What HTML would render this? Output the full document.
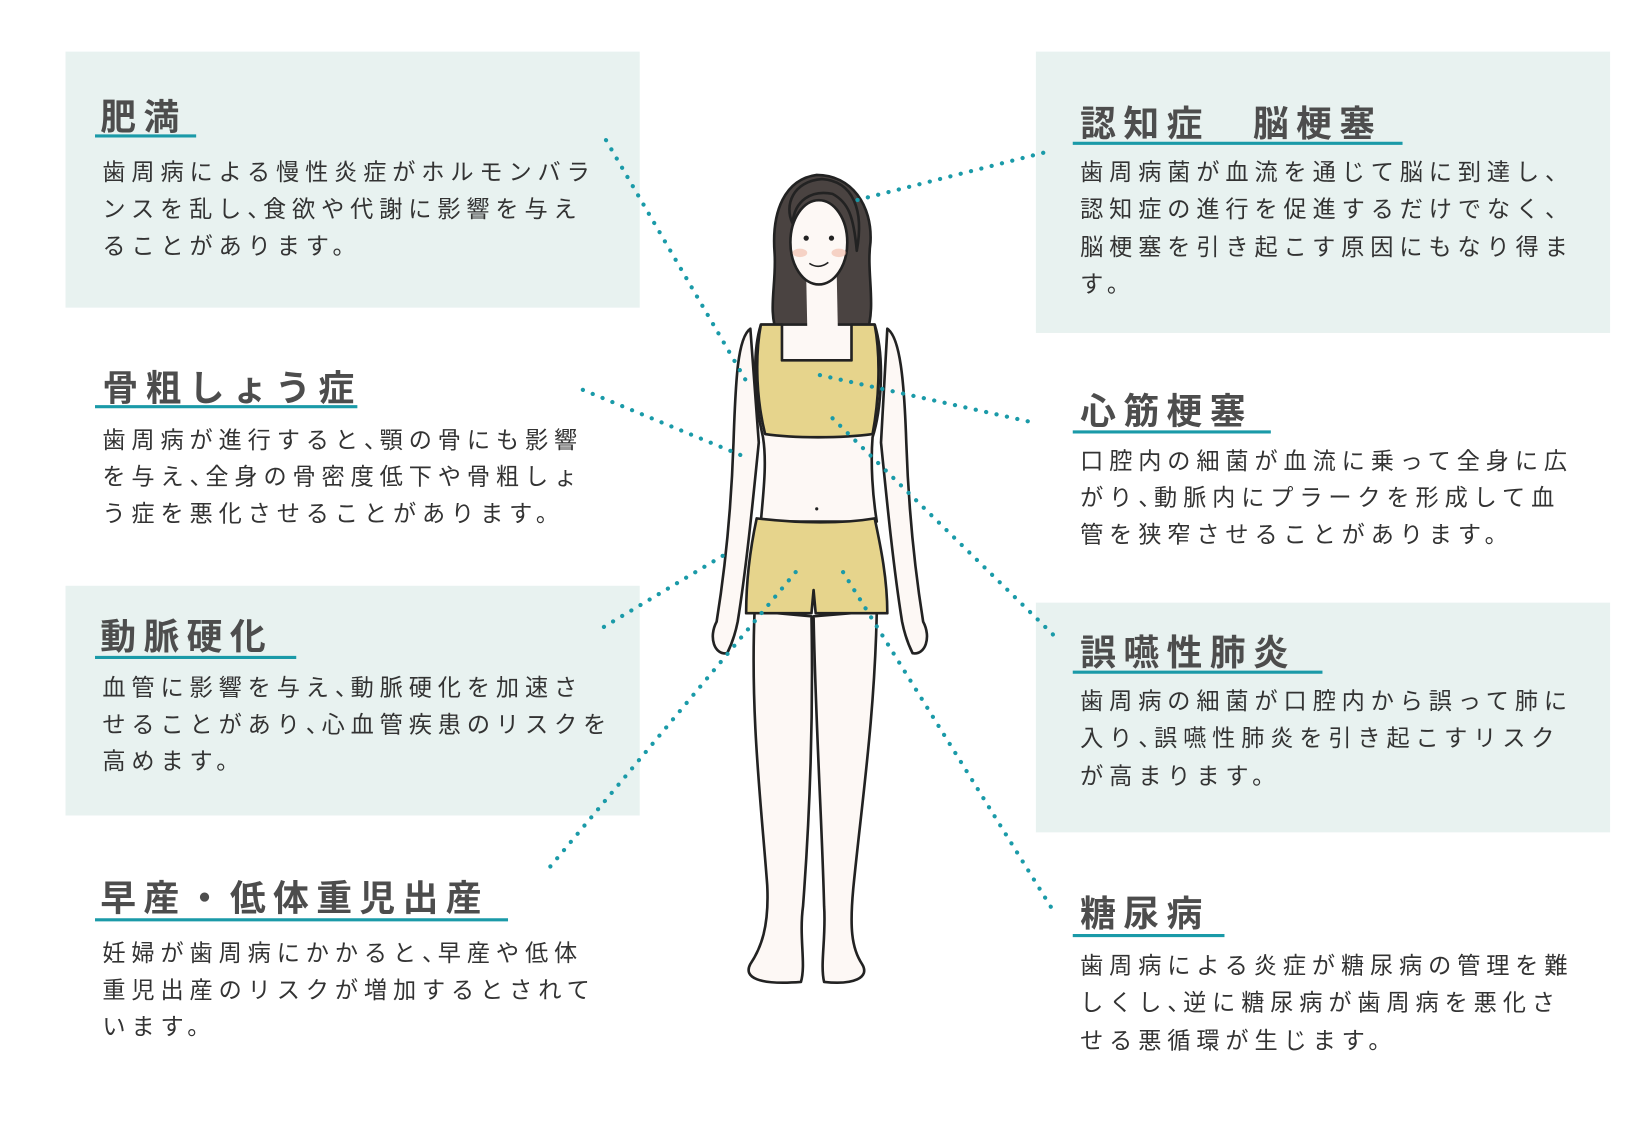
<!DOCTYPE html>
<html><head><meta charset="utf-8"><style>
html,body{margin:0;padding:0;background:#fff;}
svg{display:block}
.t{font-family:"Liberation Sans","Noto Sans CJK JP",sans-serif;font-weight:bold;font-size:34px;fill:#4d4d4d;letter-spacing:7px}
.b{font-family:"Liberation Sans","Noto Sans CJK JP",sans-serif;font-size:22px;fill:#333;letter-spacing:5.6px}
.p{letter-spacing:-7px}
.u{stroke:#1a9aa8;stroke-width:3}
.d{stroke:#1a9aa8;stroke-width:4;stroke-dasharray:0.1 10;stroke-linecap:round;fill:none}
</style></head><body>
<svg width="1644" height="1140" viewBox="0 0 1560 1082" xmlns="http://www.w3.org/2000/svg">
<rect width="1560" height="1082" fill="#fff"/>
<g fill="#e8f2f0">
<rect x="62" y="49" width="545" height="243"/>
<rect x="62" y="556" width="545" height="218"/>
<rect x="983" y="49" width="545" height="267"/>
<rect x="983" y="572" width="545" height="218"/>
</g>
<text class="t" x="95" y="123">肥満</text><line class="u" x1="90" y1="129" x2="186" y2="129"/>
<text class="b" x="97" y="171">歯周病による慢性炎症がホルモンバラ</text>
<text class="b" x="97" y="206">ンスを乱し<tspan class="p">、</tspan>食欲や代謝に影響を与え</text>
<text class="b" x="97" y="241">ることがあります。</text>

<text class="t" x="97" y="380">骨粗しょう症</text><line class="u" x1="90" y1="386" x2="339" y2="386"/>
<text class="b" x="97" y="425">歯周病が進行すると<tspan class="p">、</tspan>顎の骨にも影響</text>
<text class="b" x="97" y="460">を与え<tspan class="p">、</tspan>全身の骨密度低下や骨粗しょ</text>
<text class="b" x="97" y="495">う症を悪化させることがあります。</text>

<text class="t" x="95" y="616">動脈硬化</text><line class="u" x1="90" y1="624" x2="281" y2="624"/>
<text class="b" x="97" y="660">血管に影響を与え<tspan class="p">、</tspan>動脈硬化を加速さ</text>
<text class="b" x="97" y="695">せることがあり<tspan class="p">、</tspan>心血管疾患のリスクを</text>
<text class="b" x="97" y="730">高めます。</text>

<text class="t" x="95" y="864">早産・低体重児出産</text><line class="u" x1="90" y1="873" x2="482" y2="873"/>
<text class="b" x="97" y="912">妊婦が歯周病にかかると<tspan class="p">、</tspan>早産や低体</text>
<text class="b" x="97" y="947">重児出産のリスクが増加するとされて</text>
<text class="b" x="97" y="982">います。</text>

<text class="t" x="1025" y="129">認知症　脳梗塞</text><line class="u" x1="1018" y1="136" x2="1331" y2="136"/>
<text class="b" x="1025" y="171">歯周病菌が血流を通じて脳に到達し<tspan class="p">、</tspan></text>
<text class="b" x="1025" y="206">認知症の進行を促進するだけでなく<tspan class="p">、</tspan></text>
<text class="b" x="1025" y="242">脳梗塞を引き起こす原因にもなり得ま</text>
<text class="b" x="1025" y="277">す。</text>

<text class="t" x="1025" y="402">心筋梗塞</text><line class="u" x1="1018" y1="410" x2="1206" y2="410"/>
<text class="b" x="1025" y="445">口腔内の細菌が血流に乗って全身に広</text>
<text class="b" x="1025" y="480">がり<tspan class="p">、</tspan>動脈内にプラークを形成して血</text>
<text class="b" x="1025" y="515">管を狭窄させることがあります。</text>

<text class="t" x="1025" y="631">誤嚥性肺炎</text><line class="u" x1="1018" y1="638" x2="1255" y2="638"/>
<text class="b" x="1025" y="673">歯周病の細菌が口腔内から誤って肺に</text>
<text class="b" x="1025" y="708">入り<tspan class="p">、</tspan>誤嚥性肺炎を引き起こすリスク</text>
<text class="b" x="1025" y="744">が高まります。</text>

<text class="t" x="1025" y="879">糖尿病</text><line class="u" x1="1018" y1="888" x2="1162" y2="888"/>
<text class="b" x="1025" y="924">歯周病による炎症が糖尿病の管理を難</text>
<text class="b" x="1025" y="959">しくし<tspan class="p">、</tspan>逆に糖尿病が歯周病を悪化さ</text>
<text class="b" x="1025" y="995">せる悪循環が生じます。</text>

<g stroke="#222" stroke-width="2.5" stroke-linejoin="round">
<path d="M775 166 C745 170 732 200 735 240 C737 270 728 295 738 318 L822 318 C832 290 822 260 826 230 C828 195 808 166 775 166 Z" fill="#4a4341"/>
<path d="M716 580 C712 680 722 760 728 840 C730 880 722 900 712 915 C705 928 720 935 760 932 C765 915 758 890 762 860 C768 780 772 690 770 585 Z" fill="#fdf8f5"/>
<path d="M772 585 C774 690 780 780 782 860 C784 890 778 915 782 932 C810 935 826 928 818 915 C808 900 806 880 810 840 C818 760 830 680 832 580 Z" fill="#fdf8f5"/>
<path d="M712 312 C700 320 698 360 696 420 C694 480 688 540 680 590 C672 605 678 622 690 620 C695 610 698 600 700 590 C708 540 714 480 720 420 Z" fill="#fdf8f5"/>
<path d="M842 312 C854 320 858 360 860 420 C862 480 868 540 876 590 C884 605 878 622 866 620 C861 610 858 600 856 590 C848 540 842 480 836 420 Z" fill="#fdf8f5"/>
<path d="M722 308 C712 340 718 390 724 415 C728 440 724 470 722 495 L832 495 C828 470 826 440 828 415 C836 390 840 340 830 308 Z" fill="#fdf8f5"/>
<path d="M765 262 L766 310 L795 310 L794 262 Z" fill="#fdf8f5" stroke="none"/>
<ellipse cx="777" cy="230" rx="27" ry="40" fill="#fdf8f5"/>
<path d="M752 212 C754 190 770 180 790 184 C805 192 810 205 813 238 C820 200 810 172 780 170 C752 172 744 195 752 212 Z" fill="#4a4341"/>
<path d="M722 308 L742 308 L742 342 L808 342 L808 308 L830 308 C836 340 834 380 828 412 C800 416 752 416 726 412 C718 380 716 340 722 308 Z" fill="#e6d48c"/>
<path d="M718 492 C760 497 800 497 830 492 C836 520 842 550 842 582 L774 582 L772 560 L770 582 L708 582 C708 550 712 520 718 492 Z" fill="#e6d48c"/>
</g>
<g fill="#222"><circle cx="765" cy="226" r="2.5"/><circle cx="789" cy="226" r="2.5"/><circle cx="775" cy="483" r="1.5"/></g>
<path d="M768 250 Q777 256 786 249" stroke="#222" stroke-width="1.5" fill="none"/>
<ellipse cx="759" cy="240" rx="7" ry="4" fill="#f2b9a5" opacity=".6"/><ellipse cx="796" cy="240" rx="7" ry="4" fill="#f2b9a5" opacity=".6"/>
<path class="d" d="M575 133 L710 365"/>
<path class="d" d="M990 145 L805 192"/>
<path class="d" d="M553 370 L703 432"/>
<path class="d" d="M778 356 L985 402"/>
<path class="d" d="M790 397 L1000 603"/>
<path class="d" d="M573 595 L690 525"/>
<path class="d" d="M755 543 L520 825"/>
<path class="d" d="M800 543 L998 862"/>
</svg>
</body></html>
